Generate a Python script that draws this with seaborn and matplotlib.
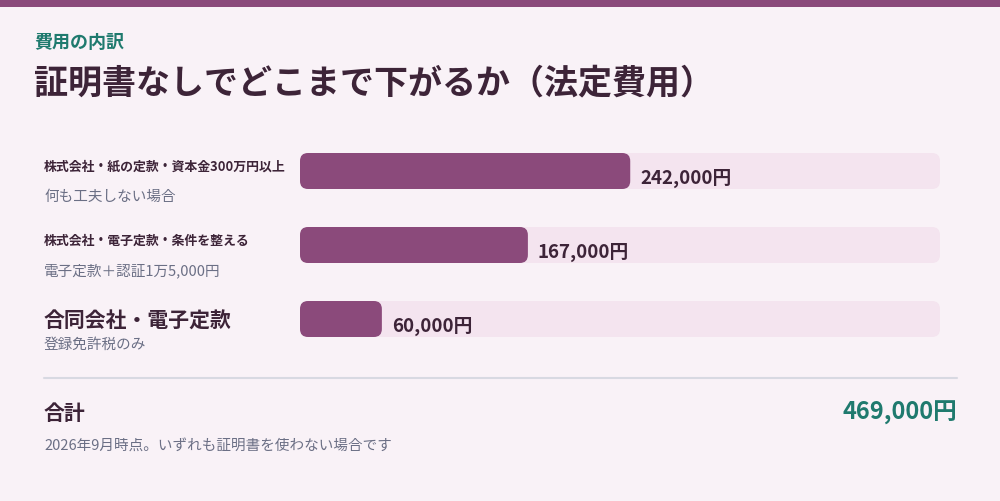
import matplotlib
matplotlib.use("Agg")
import matplotlib.pyplot as plt
import seaborn as sns
import pandas as pd
from matplotlib.patches import FancyBboxPatch, Rectangle

categories = ["株式会社・紙の定款・資本金300万円以上", "株式会社・電子定款・条件を整える", "合同会社・電子定款"]
subtitles = ["何も工夫しない場合", "電子定款＋認証1万5,000円", "登録免許税のみ"]
values = [242000, 167000, 60000]
value_labels = ["242,000円", "167,000円", "60,000円"]
total_value = 469000
total_label = "469,000円"

sns.set_theme(style="white")
plt.rcParams['font.family'] = ['Noto Sans CJK JP', 'DejaVu Sans']

W, H = 1000, 502
BG = "#f9f2f7"; BAR = "#8b4a7b"; TRACK = "#f4e4ef"; DARK = "#3d2438"; TEAL = "#1f7a6e"; GRAY = "#6b6f85"
fig = plt.figure(figsize=(W/100, H/100), dpi=100, facecolor=BG)

def fx(x): return x / W
def fy(y): return 1 - y / H

fig.add_artist(Rectangle((0, fy(8)), 1, 8/H, transform=fig.transFigure, color=BAR, lw=0))

ax = fig.add_axes([fx(300), fy(357), 640/W, 222/H])
ax.set_facecolor("none")
df = pd.DataFrame({"cat": categories, "val": values})
ax.barh(range(3), [total_value]*3, height=36/74, color=TRACK, lw=0)
sns.barplot(data=df, x="val", y="cat", orient="h", color=BAR, width=36/74, ax=ax, saturation=1)
ax.set_xlim(0, total_value)
ax.set_ylim(2.5, -0.5)
ax.axis("off")

xpp = total_value / 640
ypp = 3 / 222
for p in list(ax.patches):
    x, y, w, h = p.get_x(), p.get_y(), p.get_width(), p.get_height()
    fc = p.get_facecolor()
    p.remove()
    ax.add_patch(FancyBboxPatch((x, y), w, h, boxstyle=f"round,pad=0,rounding_size={8*xpp}",
                                mutation_aspect=ypp/xpp, facecolor=fc, lw=0))

for i, (v, lab) in enumerate(zip(values, value_labels)):
    ax.text(v + 10*xpp, i + 6*ypp, lab, ha="left", va="center", fontsize=13.5, fontweight="bold", color=DARK)

fig.text(fx(34), fy(43), "費用の内訳", fontsize=13, fontweight="bold", color=TEAL, va="center")
fig.text(fx(34), fy(83), "証明書なしでどこまで下がるか（法定費用）", fontsize=24.5, fontweight="bold", color=DARK, va="center")

fig.text(fx(44), fy(167), categories[0], fontsize=9.3, fontweight="bold", color=DARK, va="center")
fig.text(fx(44), fy(197), subtitles[0], fontsize=10.5, color=GRAY, va="center")
fig.text(fx(44), fy(241), categories[1], fontsize=9.3, fontweight="bold", color=DARK, va="center")
fig.text(fx(44), fy(271), subtitles[1], fontsize=10.5, color=GRAY, va="center")
fig.text(fx(44), fy(321), categories[2], fontsize=15, fontweight="bold", color=DARK, va="center")
fig.text(fx(44), fy(345), subtitles[2], fontsize=10.5, color=GRAY, va="center")

fig.add_artist(plt.Line2D([fx(44), fx(957)], [fy(379), fy(379)], transform=fig.transFigure, color="#d8d9e2", lw=1.5))
fig.text(fx(44), fy(413), "合計", fontsize=15, fontweight="bold", color=DARK, va="center")
fig.text(fx(957), fy(413), total_label, fontsize=17, fontweight="bold", color=TEAL, va="center", ha="right")
fig.text(fx(44), fy(446), "2026年9月時点。いずれも証明書を使わない場合です", fontsize=10.5, color=GRAY, va="center")

fig.savefig("out.png", dpi=100, facecolor=BG)
